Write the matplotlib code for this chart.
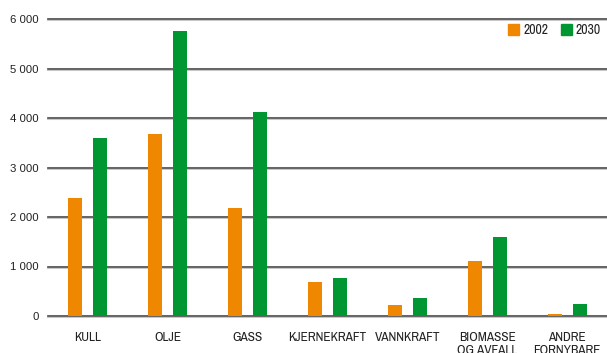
import matplotlib
matplotlib.use("Agg")
import matplotlib.pyplot as plt
from matplotlib.patches import Rectangle
import numpy as np

categories = ["KULL", "OLJE", "GASS", "KJERNEKRAFT", "VANNKRAFT",
              "BIOMASSE\nOG AVFALL", "ANDRE\nFORNYBARE"]
values_2002 = [2380, 3680, 2180, 690, 220, 1110, 40]
values_2030 = [3600, 5760, 4120, 770, 360, 1600, 240]
series_labels = ["2002", "2030"]
y_ticks = [0, 1000, 2000, 3000, 4000, 5000, 6000]
y_tick_labels = ["0", "1 000", "2 000", "3 000", "4 000", "5 000", "6 000"]

ORANGE = "#F08700"
GREEN = "#009632"
TEXT = "#222222"
NARROW = ["Archivo Narrow", "DejaVu Sans"]
REGULAR = ["Liberation Sans", "DejaVu Sans"]

W, H = 607, 353
fig = plt.figure(figsize=(W / 100, H / 100), dpi=100)
ax = fig.add_axes([48 / W, 1 - 316 / H, 1 - 48 / W, (316 - 19) / H])

x = np.arange(len(categories))
w = 0.175
off = 0.156
colors = [ORANGE, GREEN]
for i, vals in enumerate([values_2002, values_2030]):
    ax.bar(x + (i * 2 - 1) * off, vals, width=w, color=colors[i], zorder=3)

ax.set_xlim(-0.5, len(categories) - 0.5)
ax.set_ylim(0, 6000)

# double-stroke gridlines: soft grey halo under a dark line
for t in y_ticks:
    ax.axhline(t, color="#c8c8c8", lw=2.2, zorder=1, clip_on=False)
    ax.axhline(t, color="#4a4a4a", lw=1.1, zorder=2, clip_on=False)

for s in ax.spines.values():
    s.set_visible(False)

ax.set_yticks(y_ticks)
ax.set_yticklabels(y_tick_labels, fontsize=8.2, color=TEXT, family=REGULAR)
ax.tick_params(axis="y", length=0, pad=6.5)
ax.set_xticks(x)
ax.set_xticklabels(categories, fontsize=9.6, color=TEXT, family=NARROW,
                   linespacing=1.25)
ax.tick_params(axis="x", length=0, pad=11.5)

# legend keys and labels, top right
key = 11
for i, (lab, col) in enumerate(zip(series_labels, colors)):
    x0 = 508 + i * 53
    fig.patches.append(Rectangle((x0 / W, 1 - 35 / H), key / W, key / H,
                                 transform=fig.transFigure, color=col,
                                 zorder=5))
    fig.text((x0 + key + 4) / W, 1 - 30 / H, lab, fontsize=10, color=TEXT,
             family=NARROW, va="center", ha="left")

fig.savefig("out.png", dpi=100)
